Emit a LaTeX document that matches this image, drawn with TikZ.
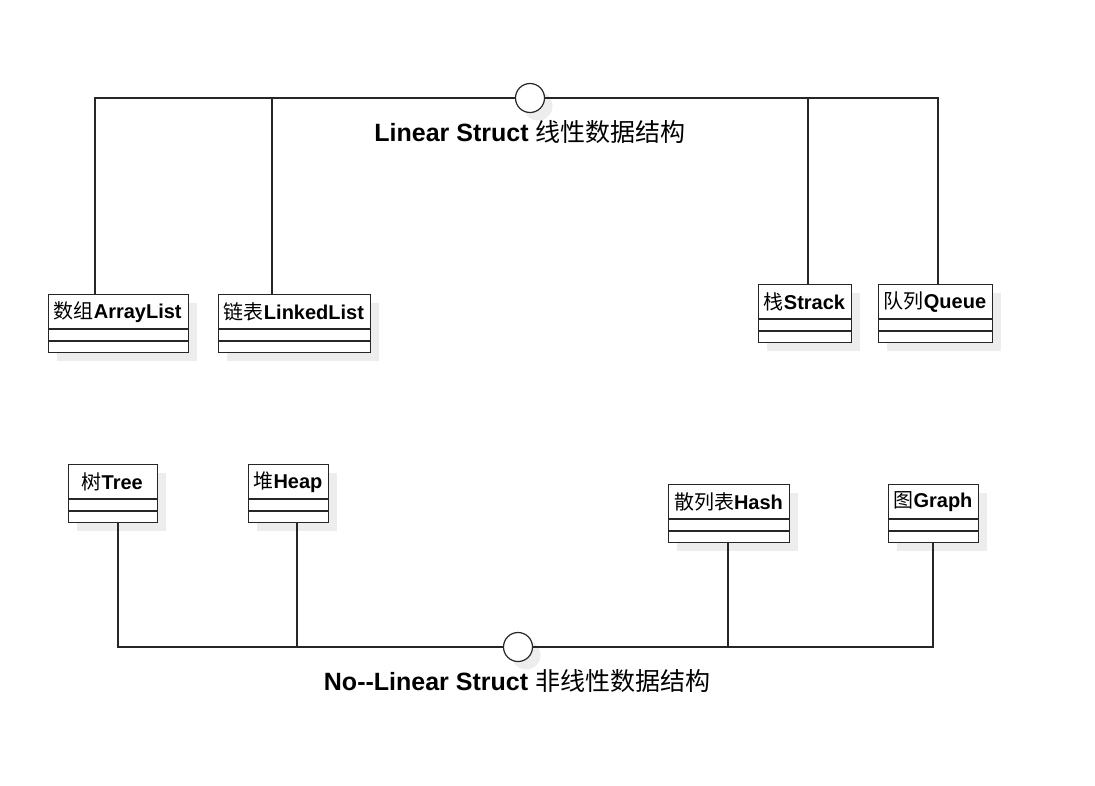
\documentclass[tikz,border=0pt]{standalone}
\usepackage{fontspec}
\setmainfont{Liberation Sans}
\newfontfamily\cjk{Noto Sans CJK SC}
\tikzset{
  ln/.style={line width=1.2pt, draw=black!85},
  clsbox/.style={ln, fill=white, inner sep=0pt, anchor=north west, minimum height=58pt},
  clstext/.style={inner sep=0pt, font=\fontsize{20}{24}\selectfont},
  shd/.style={fill=black!7},
  iface/.style={circle, ln, fill=white, minimum size=29pt, inner sep=0pt},
  ttl/.style={anchor=base, inner sep=0pt, font=\fontsize{25}{30}\selectfont},
}
\newcommand\umlcls[5]{%
  \fill[shd] (#2+9,#3+9) rectangle ++(#4,58);
  \node[clsbox, minimum width=#4pt] (#1) at (#2,#3) {};
  \node[clstext] (#1t) at (#2+#4/2,#3+18) {#5};
  \draw[ln] (#2,#3+35) -- ++(#4,0);
  \draw[ln] (#2,#3+47) -- ++(#4,0);
}
\begin{document}
\begin{tikzpicture}[x=1pt,y=-1pt]
\useasboundingbox (0,0) rectangle (1095,785);
% classes
\umlcls{al}{47.5}{294}{140.5}{{\cjk 数组}\textbf{ArrayList}}
\umlcls{ll}{218}{294}{152}{{\cjk 链表}\textbf{LinkedList}}
\umlcls{st}{758}{284}{93}{{\cjk 栈}\textbf{Strack}}
\umlcls{qu}{878}{284}{114}{{\cjk 队列}\textbf{Queue}}
\umlcls{tr}{68}{464}{88.5}{{\cjk 树}\textbf{Tree}}
\umlcls{hp}{248}{464}{80}{{\cjk 堆}\textbf{Heap}}
\umlcls{hs}{668}{484}{121}{{\cjk 散列表}\textbf{Hash}}
\umlcls{gr}{888}{484}{90}{{\cjk 图}\textbf{Graph}}
% interface circle shadows
\fill[shd] (538,106) circle (14.5);
\fill[shd] (526,655) circle (14.5);
% interface nodes
\coordinate (c1p) at (530,98);
\coordinate (c2p) at (518,647);
\node[iface] (c1) at (c1p) {};
\node[iface] (c2) at (c2p) {};
% connectors
\draw[ln] (al.north -| 95,0) |- (c1.west);
\draw[ln] (ll.north -| 272,0) |- (c1.west);
\draw[ln] (st.north -| 808,0) |- (c1.east);
\draw[ln] (qu.north -| 938,0) |- (c1.east);
\draw[ln] (tr.south -| 118,0) |- (c2.west);
\draw[ln] (hp.south -| 297,0) |- (c2.west);
\draw[ln] (hs.south -| 728,0) |- (c2.east);
\draw[ln] (gr.south -| 933,0) |- (c2.east);
% titles
\node[ttl] (t1) at (530,141) {\textbf{Linear Struct} {\cjk 线性数据结构}};
\node[ttl] (t2) at (517,690) {\textbf{No-{}-Linear Struct} {\cjk 非线性数据结构}};
\end{tikzpicture}
\end{document}
